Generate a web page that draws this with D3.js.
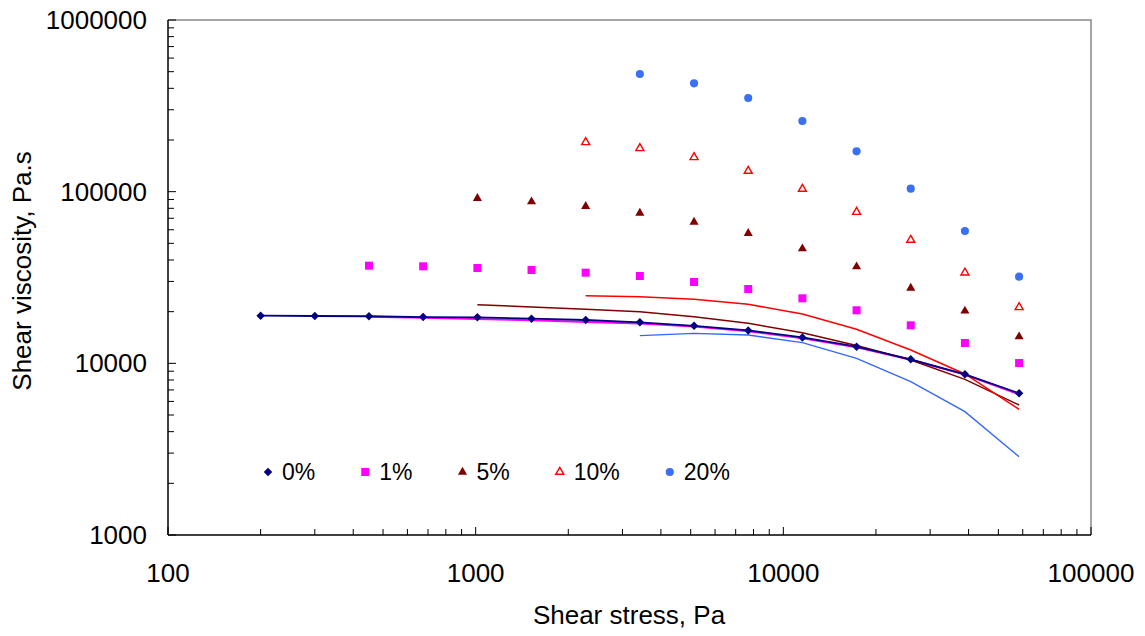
<!doctype HTML>
<html>
<head>
    <style>
        body { margin: 0; background: #fff; }
        text { font-family: "Liberation Sans", Arial, sans-serif; fill: #000; }
    </style>
    <script src="https://d3js.org/d3.v7.min.js"></script>
</head>
<body>
<div id="chart"></div>
<script>

    // shear stress (Pa), same for every series
    var stress = [200, 300, 450, 675, 1013, 1519, 2278, 3417, 5126, 7689, 11533, 17300, 25949, 38924, 58386];

    // measured viscosities (markers), null = no point
    var visc0  = [18950, 18870, 18800, 18600, 18540, 18200, 17880, 17340, 16540, 15550, 14150, 12500, 10550, 8630, 6690];
    var visc1  = [null, null, 37060, 36740, 35930, 34970, 33730, 32270, 29780, 27100, 23920, 20370, 16650, 13140, 10040];
    var visc5  = [null, null, null, null, 91450, 87420, 82140, 75110, 66570, 57190, 46540, 36560, 27470, 20180, 14300];
    var visc10 = [null, null, null, null, null, null, 193800, 178800, 158600, 132000, 103700, 76100, 52300, 33730, 21200];
    var visc20 = [null, null, null, null, null, null, null, 484700, 427700, 351300, 258000, 171800, 104100, 59000, 31970];

    // shifted curves (plain lines)
    var line1  = [null, null, 18650, 18450, 18150, 17800, 17400, 17050, 16400, 15400, 14000, 12400, 10500, 8600, 6600];
    var line5  = [null, null, null, null, 21960, 21290, 20640, 19990, 18690, 17110, 15080, 12700, 10460, 8070, 5720];
    var line10 = [null, null, null, null, null, null, 24770, 24440, 23600, 22070, 19390, 15790, 11960, 8670, 5400];
    var line20 = [null, null, null, null, null, null, null, 14490, 14960, 14620, 13190, 10700, 7820, 5230, 2858];

    var seriesNames = ["0%", "1%", "5%", "10%", "20%"];
    var xTicks = [100, 1000, 10000, 100000];
    var yTicks = [1000, 10000, 100000, 1000000];

    var canvasWidth = 1145;
    var canvasHeight = 636;

    var svg = d3.select("#chart").append("svg")
        .attr("width", canvasWidth)
        .attr("height", canvasHeight);

    var x = d3.scaleLog().domain([100, 100000]).range([168, 1091]);
    var y = d3.scaleLog().domain([1000, 1000000]).range([535, 20]);

    // plot frame (grey top / right)
    svg.append("path")
        .attr("d", `M${x(100)},${y(1000000)}H${x(100000)}V${y(1000)}`)
        .attr("fill", "none")
        .attr("stroke", "#888")
        .attr("stroke-width", 1.5);

    // minor + major tick values
    function logTicks(lo, hi) {
        var out = [];
        for (var d = lo; d < hi; d *= 10) {
            for (var k = 1; k < 10; k++) out.push({v: d * k, major: k === 1});
        }
        out.push({v: hi, major: true});
        return out;
    }

    // x axis
    var xAxis = svg.append("g");
    xAxis.append("line")
        .attr("x1", x(100)).attr("x2", x(100000))
        .attr("y1", y(1000)).attr("y2", y(1000))
        .attr("stroke", "#000").attr("stroke-width", 1.5);
    xAxis.selectAll(".xt")
        .data(logTicks(100, 100000))
        .join("line")
        .attr("x1", d => x(d.v)).attr("x2", d => x(d.v))
        .attr("y1", y(1000)).attr("y2", d => y(1000) - (d.major ? 8 : 6))
        .attr("stroke", "#000").attr("stroke-width", 1);
    xAxis.selectAll(".xl")
        .data(xTicks)
        .join("text")
        .attr("x", d => x(d))
        .attr("y", 582)
        .attr("text-anchor", "middle")
        .attr("font-size", "26px")
        .text(d => d);

    // y axis
    var yAxis = svg.append("g");
    yAxis.append("line")
        .attr("x1", x(100)).attr("x2", x(100))
        .attr("y1", y(1000)).attr("y2", y(1000000))
        .attr("stroke", "#000").attr("stroke-width", 1.5);
    yAxis.selectAll(".yt")
        .data(logTicks(1000, 1000000))
        .join("line")
        .attr("x1", x(100)).attr("x2", d => x(100) + (d.major ? 8 : 6))
        .attr("y1", d => y(d.v)).attr("y2", d => y(d.v))
        .attr("stroke", "#000").attr("stroke-width", 1);
    yAxis.selectAll(".yl")
        .data(yTicks)
        .join("text")
        .attr("x", 147)
        .attr("y", d => y(d))
        .attr("dy", "0.35em")
        .attr("text-anchor", "end")
        .attr("font-size", "26px")
        .text(d => d);

    // axis titles
    svg.append("text")
        .attr("x", 629)
        .attr("y", 624)
        .attr("text-anchor", "middle")
        .attr("font-size", "26px")
        .text("Shear stress, Pa");

    svg.append("text")
        .attr("transform", "translate(31, 271) rotate(-90)")
        .attr("text-anchor", "middle")
        .attr("font-size", "26px")
        .text("Shear viscosity, Pa.s");

    function pts(vals) {
        return stress.map((s, i) => ({s: s, v: vals[i]})).filter(d => d.v != null);
    }

    var line = d3.line()
        .x(d => x(d.s))
        .y(d => y(d.v));

    // shifted curves
    var curves = [
        {vals: line1, color: "#ff00ff", w: 2},
        {vals: line5, color: "#800000", w: 1.5},
        {vals: line10, color: "#ff0000", w: 1.5},
        {vals: line20, color: "#3366ff", w: 1.3}
    ];
    curves.forEach(function(c) {
        svg.append("path")
            .datum(pts(c.vals))
            .attr("d", line)
            .attr("fill", "none")
            .attr("stroke", c.color)
            .attr("stroke-width", c.w);
    });

    // 0% line through its markers
    svg.append("path")
        .datum(pts(visc0))
        .attr("d", line)
        .attr("fill", "none")
        .attr("stroke", "#000080")
        .attr("stroke-width", 1.8);

    // marker styles per series
    var markers = [
        {vals: visc0, type: d3.symbolSquare, size: 36, rot: 45, fill: "#000080", stroke: "none"},
        {vals: visc1, type: d3.symbolSquare, size: 64, rot: 0, fill: "#ff00ff", stroke: "none"},
        {vals: visc5, type: d3.symbolTriangle, size: 36, rot: 0, fill: "#800000", stroke: "none"},
        {vals: visc10, type: d3.symbolTriangle, size: 28, rot: 0, fill: "#fff", stroke: "#ff0000"},
        {vals: visc20, type: d3.symbolCircle, size: 52, rot: 0, fill: "#3a70f5", stroke: "none"}
    ];

    markers.forEach(function(m) {
        svg.append("g")
            .selectAll("path")
            .data(pts(m.vals))
            .join("path")
            .attr("d", d3.symbol(m.type, m.size))
            .attr("transform", d => `translate(${x(d.s)},${y(d.v)}) rotate(${m.rot})`)
            .attr("fill", m.fill)
            .attr("stroke", m.stroke)
            .attr("stroke-width", 1.4);
    });

    // legend
    var legend = svg.append("g");
    var lx = 268;
    markers.forEach(function(m, i) {
        legend.append("path")
            .attr("d", d3.symbol(m.type, m.size))
            .attr("transform", `translate(${lx},472) rotate(${m.rot})`)
            .attr("fill", m.fill)
            .attr("stroke", m.stroke)
            .attr("stroke-width", 1.4);
        var t = legend.append("text")
            .attr("x", lx + 14)
            .attr("y", 480)
            .attr("font-size", "23px")
            .text(seriesNames[i]);
        lx = lx + 14 + t.node().getComputedTextLength() + 50;
    });

</script>
</body>
</html>
